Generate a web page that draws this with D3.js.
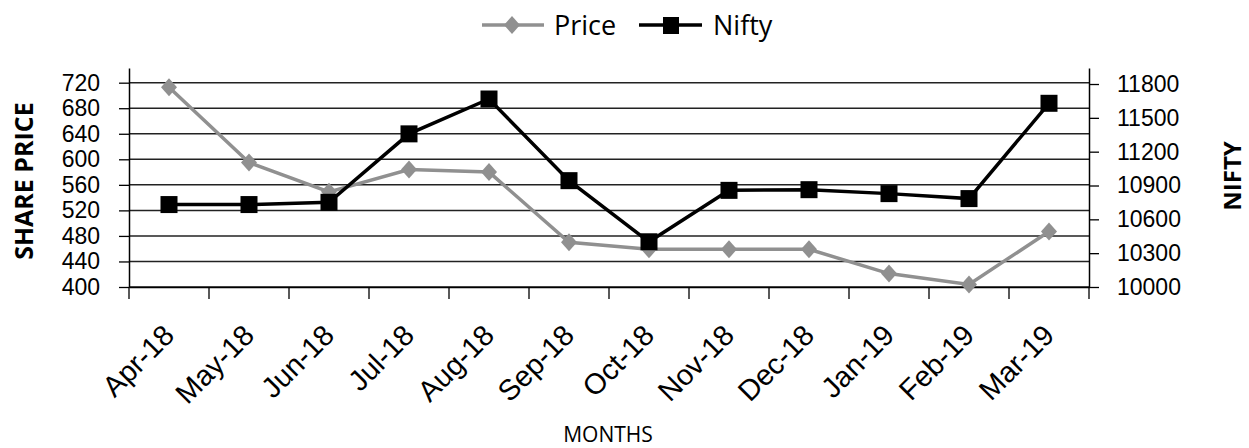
<!DOCTYPE html>
<html>
<head>
<meta charset="utf-8">
<script src="https://cdn.jsdelivr.net/npm/d3@7"></script>
<style>
  html, body { margin: 0; padding: 0; background: #fff; }
  svg { display: block; font-family: "Open Sans", Lato, sans-serif; }
</style>
</head>
<body>
<svg id="chart" width="1249" height="448"></svg>
<script>
const months = ["Apr-18","May-18","Jun-18","Jul-18","Aug-18","Sep-18","Oct-18","Nov-18","Dec-18","Jan-19","Feb-19","Mar-19"];
const price = [713, 595, 549, 584, 580, 470, 459, 459, 459, 421, 404, 487];
const nifty = [10731, 10731, 10751, 11358, 11667, 10943, 10401, 10857, 10863, 10828, 10784, 11629];
const priceTicks = [400, 440, 480, 520, 560, 600, 640, 680, 720];
const niftyTicks = [10000, 10300, 10600, 10900, 11200, 11500, 11800];

const svg = d3.select("#chart");
const L = 129, R = 1089, T = 68, B = 287;
const grayCol = "#909090";
const diamond = "M0,-9L8,0L0,9L-8,0Z";

const x = d3.scaleBand().domain(months).range([L, R]);
const yL = d3.scaleLinear().domain([400, 743]).range([B, T]);
const yR = d3.scaleLinear().domain([10000, 11942]).range([B, T]);

// gridlines
svg.append("g").selectAll("line").data(priceTicks).join("line")
  .attr("x1", L).attr("x2", R)
  .attr("y1", d => yL(d)).attr("y2", d => yL(d))
  .attr("stroke", "#222").attr("stroke-width", 1.5);

// left axis
const gl = svg.append("g").attr("transform", `translate(${L},0)`)
  .call(d3.axisLeft(yL).tickValues(priceTicks).tickSize(10).tickSizeOuter(0).tickPadding(19));
// right axis
const gr = svg.append("g").attr("transform", `translate(${R},0)`)
  .call(d3.axisRight(yR).tickValues(niftyTicks).tickFormat(d3.format("d")).tickSize(10).tickSizeOuter(0).tickPadding(18));
// bottom axis (ticks at band boundaries)
const gb = svg.append("g").attr("transform", `translate(0,${B})`)
  .call(d3.axisBottom(x).tickSize(0).tickSizeOuter(0).tickPadding(0));
gb.selectAll(".tick text").remove();
const bounds = months.map(m => x(m)).concat([R]);
gb.append("g").selectAll("line").data(bounds).join("line")
  .attr("x1", d => d).attr("x2", d => d).attr("y1", 0).attr("y2", 12)
  .attr("stroke", "#000").attr("stroke-width", 1.3);
gb.selectAll(".tick").each(function(d) {
  d3.select(this).append("text")
    .attr("transform", "translate(7,50) rotate(-45)")
    .attr("text-anchor", "end")
    .attr("fill", "#000")
    .style("font-size", "29px")
    .text(d);
});

[gl, gr, gb].forEach(g => {
  g.select(".domain").attr("stroke", "#000").attr("stroke-width", 1.5);
  g.selectAll(".tick line").attr("stroke", "#000").attr("stroke-width", 1.3);
});
[gl, gr].forEach(g => g.selectAll(".tick text").attr("fill", "#000").style("font-size", "23px"));

const cx = d => x(d) + x.bandwidth() / 2;

// Price line
svg.append("path").datum(price)
  .attr("fill", "none").attr("stroke", grayCol).attr("stroke-width", 3.5)
  .attr("d", d3.line().x((d, i) => cx(months[i])).y(d => yL(d)));
svg.append("g").selectAll("path").data(price).join("path")
  .attr("transform", (d, i) => `translate(${cx(months[i])},${yL(d)})`)
  .attr("d", diamond)
  .attr("fill", grayCol);

// Nifty line
svg.append("path").datum(nifty)
  .attr("fill", "none").attr("stroke", "#000").attr("stroke-width", 3.5)
  .attr("d", d3.line().x((d, i) => cx(months[i])).y(d => yR(d)));
svg.append("g").selectAll("rect").data(nifty).join("rect")
  .attr("x", (d, i) => cx(months[i]) - 8.5).attr("y", d => yR(d) - 8.5)
  .attr("width", 17).attr("height", 17).attr("fill", "#000");

// axis titles
svg.append("text").attr("transform", "translate(33,181) rotate(-90)")
  .attr("text-anchor", "middle").style("font-size", "25px").style("font-weight", "bold")
  .text("SHARE PRICE");
svg.append("text").attr("transform", "translate(1241,176) rotate(-90)")
  .attr("text-anchor", "middle").style("font-size", "24px").style("font-weight", "bold")
  .text("NIFTY");
svg.append("text").attr("x", 608).attr("y", 442)
  .attr("text-anchor", "middle").style("font-size", "21px")
  .text("MONTHS");

// legend
const lg = svg.append("g");
lg.append("line").attr("x1", 482).attr("x2", 544).attr("y1", 25).attr("y2", 25)
  .attr("stroke", grayCol).attr("stroke-width", 3.5);
lg.append("path").attr("transform", "translate(512,25)")
  .attr("d", diamond).attr("fill", grayCol);
lg.append("text").attr("x", 554).attr("y", 35).style("font-size", "27px").text("Price");
lg.append("line").attr("x1", 639).attr("x2", 702).attr("y1", 25).attr("y2", 25)
  .attr("stroke", "#000").attr("stroke-width", 3.5);
lg.append("rect").attr("x", 663).attr("y", 17).attr("width", 16).attr("height", 17).attr("fill", "#000");
lg.append("text").attr("x", 713).attr("y", 35).style("font-size", "27px").text("Nifty");
</script>
</body>
</html>
